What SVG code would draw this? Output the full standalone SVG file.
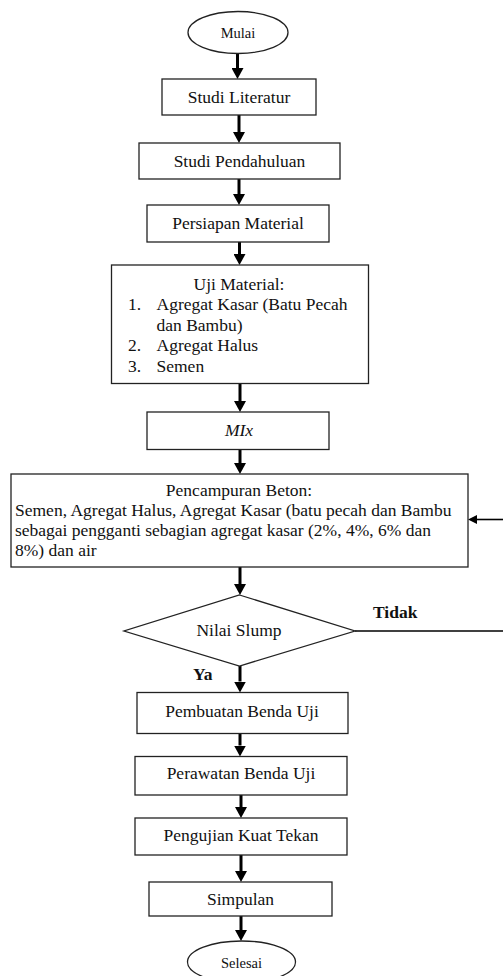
<svg xmlns="http://www.w3.org/2000/svg" width="503" height="976" viewBox="0 0 503 976">
<style>
  .bg { fill: #ffffff; }
  .shape { fill: #ffffff; stroke: #222222; stroke-width: 1.3; }
  .t { font-family: "Liberation Serif", "Times New Roman", serif; font-size: 17.5px; fill: #111111; }
  .c { text-anchor: middle; }
  .small { font-size: 14.5px; }
  .b { font-weight: bold; }
  .i { font-style: italic; }
  .conn { stroke: #000000; stroke-width: 3; fill: none; }
  .thin { stroke: #000000; stroke-width: 1.6; fill: none; }
</style>
<defs>
  <marker id="ah" markerWidth="11" markerHeight="12" refX="0" refY="6" orient="auto" markerUnits="userSpaceOnUse">
    <path d="M0,0 L11,6 L0,12 z" fill="#000000"/>
  </marker>
  <marker id="ahs" markerWidth="9" markerHeight="9" refX="0" refY="4.5" orient="auto" markerUnits="userSpaceOnUse">
    <path d="M0,0 L9,4.5 L0,9 z" fill="#000000"/>
  </marker>
</defs>
<rect class="bg" x="0" y="0" width="503" height="976"/>

<g id="connectors">
  <line class="conn" x1="237.5" y1="53.5" x2="237.5" y2="68" marker-end="url(#ah)"/>
  <line class="conn" x1="239" y1="115" x2="239" y2="132" marker-end="url(#ah)"/>
  <line class="conn" x1="239" y1="179" x2="239" y2="194" marker-end="url(#ah)"/>
  <line class="conn" x1="239.5" y1="242" x2="239.5" y2="254" marker-end="url(#ah)"/>
  <line class="conn" x1="240" y1="383.5" x2="240" y2="401" marker-end="url(#ah)"/>
  <line class="conn" x1="240" y1="449.5" x2="240" y2="463" marker-end="url(#ah)"/>
  <line class="conn" x1="240" y1="567" x2="240" y2="584" marker-end="url(#ah)"/>
  <line class="conn" x1="240" y1="666" x2="240" y2="681.5" marker-end="url(#ah)"/>
  <line class="conn" x1="240" y1="733.5" x2="240" y2="745.5" marker-end="url(#ah)"/>
  <line class="conn" x1="241" y1="795" x2="241" y2="807" marker-end="url(#ah)"/>
  <line class="conn" x1="241" y1="855" x2="241" y2="871" marker-end="url(#ah)"/>
  <line class="conn" x1="241" y1="916" x2="241" y2="930" marker-end="url(#ah)"/>
  <line class="thin" x1="355" y1="631" x2="503" y2="631"/>
  <line class="thin" x1="503" y1="519.5" x2="477" y2="519.5" marker-end="url(#ahs)"/>
  <text class="t b" x="373" y="618">Tidak</text>
  <text class="t b" x="193" y="680">Ya</text>
</g>

<g id="mulai">
  <ellipse class="shape" cx="238" cy="32.5" rx="50" ry="21"/>
  <text class="t small c" x="238" y="38">Mulai</text>
</g>

<g id="studi-literatur">
  <rect class="shape" x="162" y="79" width="154" height="36"/>
  <text class="t c" x="239" y="103">Studi Literatur</text>
</g>

<g id="studi-pendahuluan">
  <rect class="shape" x="139" y="143" width="201" height="36"/>
  <text class="t c" x="239.5" y="167">Studi Pendahuluan</text>
</g>

<g id="persiapan-material">
  <rect class="shape" x="147" y="205" width="182" height="37"/>
  <text class="t c" x="238" y="229">Persiapan Material</text>
</g>

<g id="uji-material">
  <rect class="shape" x="111.5" y="265" width="257" height="118.5"/>
  <text class="t c" x="239" y="289.5">Uji Material:</text>
  <text class="t" x="128" y="310">1.</text>
  <text class="t" x="156.5" y="310">Agregat Kasar (Batu Pecah</text>
  <text class="t" x="156.5" y="330.5">dan Bambu)</text>
  <text class="t" x="128" y="351">2.</text>
  <text class="t" x="156.5" y="351">Agregat Halus</text>
  <text class="t" x="128" y="371.5">3.</text>
  <text class="t" x="156.5" y="371.5">Semen</text>
</g>

<g id="mix">
  <rect class="shape" x="147" y="412" width="182" height="37.5"/>
  <text class="t i c" x="239" y="435.5">MIx</text>
</g>

<g id="pencampuran-beton">
  <rect class="shape" x="11" y="474" width="457" height="93"/>
  <text class="t c" x="239" y="496">Pencampuran Beton:</text>
  <text class="t" x="15" y="516">Semen, Agregat Halus, Agregat Kasar (batu pecah dan Bambu</text>
  <text class="t" x="15" y="536">sebagai pengganti sebagian agregat kasar (2%, 4%, 6% dan</text>
  <text class="t" x="15" y="556">8%) dan air</text>
</g>

<g id="nilai-slump">
  <polygon class="shape" points="239.5,595 355,631 239.5,666 124,631"/>
  <text class="t c" x="239" y="636">Nilai Slump</text>
</g>

<g id="pembuatan-benda-uji">
  <rect class="shape" x="137" y="692.5" width="211" height="41"/>
  <text class="t c" x="242" y="716.5">Pembuatan Benda Uji</text>
</g>

<g id="perawatan-benda-uji">
  <rect class="shape" x="135" y="756.5" width="212" height="38.5"/>
  <text class="t c" x="241" y="779">Perawatan Benda Uji</text>
</g>

<g id="pengujian-kuat-tekan">
  <rect class="shape" x="135" y="818" width="212" height="37"/>
  <text class="t c" x="241" y="841">Pengujian Kuat Tekan</text>
</g>

<g id="simpulan">
  <rect class="shape" x="149" y="882" width="183" height="34"/>
  <text class="t c" x="240.5" y="904.5">Simpulan</text>
</g>

<g id="selesai">
  <ellipse class="shape" cx="241.5" cy="962" rx="54" ry="21"/>
  <text class="t small c" x="241.5" y="968">Selesai</text>
</g>
</svg>
